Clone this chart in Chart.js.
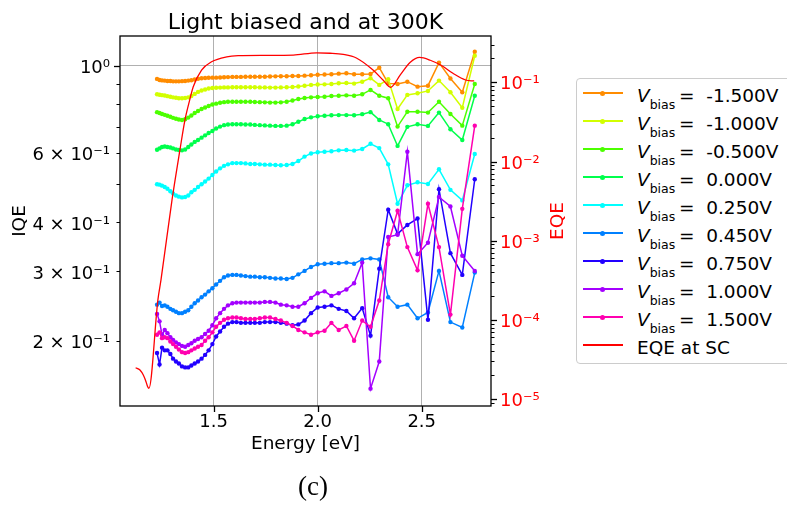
<!DOCTYPE html>
<html>
<head>
<meta charset="utf-8">
<script src="https://cdn.jsdelivr.net/npm/chart.js@4.4.0/dist/chart.umd.min.js"></script>
<style>
  html, body { margin: 0; padding: 0; background: #fff; overflow: hidden; }
  #wrap { position: relative; width: 787px; height: 505px; font-family: "DejaVu Sans", sans-serif; }
  #chart { position: absolute; left: 0; top: 0; }
  #legend { position: absolute; left: 576px; top: 78px; width: 240px; height: 284px;
            border: 1px solid #cccccc; border-radius: 4px; background: #fff; }
  .swatch { position: absolute; left: 6px; width: 40px; height: 2px; }
  .dot { position: absolute; left: 23px; width: 5px; height: 5px; border-radius: 50%; }
  .txt { position: absolute; left: 60px; top: 0; line-height: 24px; font-size: 18.5px; white-space: nowrap; color: #000; }
  .txt sub { font-size: 12.5px; vertical-align: -7px; line-height: 0; }
  #caption { position: absolute; left: 263px; top: 471px; width: 100px; text-align: center;
             font-family: "Liberation Serif", serif; font-size: 27px; line-height: 30px; }
</style>
</head>
<body>
<div id="wrap">
  <canvas id="chart" width="787" height="505"></canvas>
  <div id="legend"></div>
  <div id="caption">(c)</div>
</div>
<script>
// Energie (eV) der Messpunkte
const energy = [1.228, 1.240, 1.252, 1.265, 1.278, 1.292, 1.305, 1.319, 1.333, 1.348,
  1.363, 1.378, 1.393, 1.409, 1.425, 1.442, 1.459, 1.476, 1.494, 1.512,
  1.531, 1.550, 1.569, 1.590, 1.610, 1.631, 1.653, 1.676, 1.698, 1.722,
  1.746, 1.771, 1.797, 1.823, 1.851, 1.879, 1.907, 1.937, 1.968, 2.000,
  2.033, 2.066, 2.101, 2.138, 2.175, 2.214, 2.254, 2.296, 2.339, 2.384,
  2.431, 2.480, 2.530, 2.583, 2.638, 2.695, 2.755];

const biasValues = ['-1.500V', '-1.000V', '-0.500V', '0.000V', '0.250V', '0.450V', '0.750V', '1.000V', '1.500V'];
const biasColors = ['#ff8c00', '#d2ff00', '#4cff00', '#00ff4c', '#00ffff', '#0080ff', '#2200ff', '#a400ff', '#ff00b0'];

// IQE je Vorspannung
const iqeM150 = [0.927, 0.921, 0.919, 0.918, 0.916, 0.916, 0.914, 0.914, 0.914, 0.915,
  0.916, 0.918, 0.920, 0.924, 0.928, 0.931, 0.932, 0.933, 0.934, 0.934,
  0.935, 0.936, 0.937, 0.938, 0.938, 0.938, 0.939, 0.939, 0.939, 0.939,
  0.939, 0.940, 0.941, 0.942, 0.942, 0.943, 0.943, 0.945, 0.947, 0.950,
  0.951, 0.953, 0.956, 0.958, 0.953, 0.953, 0.954, 0.990, 0.903, 0.900,
  0.912, 0.886, 0.891, 1.020, 0.929, 0.857, 1.087];
const iqeM100 = [0.847, 0.845, 0.843, 0.841, 0.838, 0.835, 0.832, 0.830, 0.828, 0.828,
  0.829, 0.832, 0.839, 0.849, 0.859, 0.866, 0.871, 0.876, 0.879, 0.880,
  0.881, 0.882, 0.882, 0.883, 0.883, 0.883, 0.883, 0.883, 0.883, 0.882,
  0.882, 0.881, 0.881, 0.882, 0.883, 0.884, 0.887, 0.891, 0.895, 0.897,
  0.898, 0.900, 0.904, 0.905, 0.902, 0.912, 0.931, 0.895, 0.925, 0.777,
  0.844, 0.852, 0.864, 0.918, 0.857, 0.783, 1.062];
const iqeM050 = [0.763, 0.759, 0.755, 0.751, 0.747, 0.743, 0.738, 0.734, 0.731, 0.729,
  0.732, 0.739, 0.748, 0.759, 0.768, 0.777, 0.784, 0.791, 0.798, 0.802,
  0.806, 0.809, 0.811, 0.811, 0.811, 0.811, 0.811, 0.811, 0.810, 0.809,
  0.808, 0.807, 0.807, 0.808, 0.811, 0.817, 0.824, 0.829, 0.832, 0.834,
  0.835, 0.839, 0.840, 0.842, 0.840, 0.847, 0.869, 0.840, 0.828, 0.701,
  0.765, 0.765, 0.761, 0.811, 0.755, 0.705, 0.900];
const iqe000 = [0.612, 0.617, 0.622, 0.624, 0.622, 0.620, 0.617, 0.613, 0.611, 0.610,
  0.613, 0.622, 0.631, 0.641, 0.648, 0.657, 0.666, 0.675, 0.683, 0.693,
  0.701, 0.707, 0.710, 0.711, 0.711, 0.711, 0.710, 0.710, 0.708, 0.707,
  0.706, 0.705, 0.704, 0.704, 0.705, 0.711, 0.721, 0.733, 0.740, 0.745,
  0.747, 0.749, 0.750, 0.750, 0.749, 0.754, 0.763, 0.729, 0.711, 0.626,
  0.700, 0.711, 0.704, 0.761, 0.690, 0.648, 0.840];
const iqe025 = [0.500, 0.499, 0.496, 0.492, 0.487, 0.480, 0.474, 0.468, 0.465, 0.463,
  0.464, 0.468, 0.477, 0.484, 0.492, 0.500, 0.508, 0.517, 0.528, 0.539,
  0.549, 0.557, 0.562, 0.566, 0.566, 0.566, 0.565, 0.563, 0.563, 0.562,
  0.561, 0.561, 0.560, 0.559, 0.560, 0.563, 0.573, 0.588, 0.599, 0.603,
  0.605, 0.607, 0.610, 0.611, 0.609, 0.615, 0.634, 0.618, 0.562, 0.446,
  0.497, 0.506, 0.501, 0.546, 0.484, 0.455, 0.597];
const iqe045 = [0.247, 0.250, 0.245, 0.246, 0.244, 0.241, 0.239, 0.237, 0.235, 0.235,
  0.237, 0.239, 0.244, 0.249, 0.253, 0.258, 0.262, 0.267, 0.272, 0.278,
  0.284, 0.290, 0.293, 0.294, 0.294, 0.293, 0.292, 0.291, 0.291, 0.290,
  0.290, 0.289, 0.288, 0.288, 0.287, 0.289, 0.295, 0.301, 0.308, 0.313,
  0.314, 0.315, 0.315, 0.316, 0.314, 0.322, 0.324, 0.322, 0.258, 0.244,
  0.247, 0.228, 0.236, 0.301, 0.223, 0.216, 0.298];
const iqe075 = [0.186, 0.174, 0.192, 0.189, 0.189, 0.185, 0.180, 0.177, 0.175, 0.172,
  0.171, 0.171, 0.173, 0.175, 0.177, 0.180, 0.184, 0.189, 0.196, 0.205,
  0.211, 0.217, 0.221, 0.223, 0.223, 0.222, 0.222, 0.222, 0.222, 0.222,
  0.223, 0.223, 0.223, 0.222, 0.221, 0.219, 0.220, 0.225, 0.235, 0.243,
  0.244, 0.246, 0.241, 0.238, 0.228, 0.242, 0.206, 0.305, 0.431, 0.374,
  0.394, 0.409, 0.226, 0.486, 0.334, 0.294, 0.515];
const iqe100 = [0.234, 0.224, 0.207, 0.213, 0.209, 0.204, 0.201, 0.198, 0.196, 0.194,
  0.193, 0.195, 0.197, 0.200, 0.202, 0.204, 0.208, 0.212, 0.219, 0.228,
  0.235, 0.241, 0.246, 0.249, 0.250, 0.250, 0.250, 0.250, 0.250, 0.250,
  0.251, 0.251, 0.250, 0.247, 0.246, 0.244, 0.244, 0.249, 0.257, 0.264,
  0.267, 0.260, 0.264, 0.270, 0.280, 0.316, 0.151, 0.177, 0.367, 0.372,
  0.605, 0.332, 0.355, 0.464, 0.439, 0.329, 0.301];
const iqe150 = [0.207, 0.210, 0.203, 0.204, 0.203, 0.199, 0.196, 0.193, 0.190, 0.187,
  0.186, 0.187, 0.189, 0.191, 0.193, 0.195, 0.200, 0.204, 0.210, 0.217,
  0.222, 0.226, 0.228, 0.229, 0.229, 0.228, 0.227, 0.227, 0.227, 0.228,
  0.229, 0.229, 0.227, 0.225, 0.222, 0.218, 0.213, 0.210, 0.207, 0.210,
  0.212, 0.222, 0.213, 0.218, 0.200, 0.225, 0.217, 0.253, 0.352, 0.428,
  0.346, 0.302, 0.446, 0.346, 0.233, 0.433, 0.705];

// EQE bei Kurzschluss (rechte Achse)
const eqeEnergy = [1.125, 1.146, 1.162, 1.175, 1.183, 1.189, 1.232, 1.247, 1.300, 1.338,
  1.362, 1.385, 1.402, 1.442, 1.490, 1.563, 1.618, 1.750, 1.883, 1.995,
  2.060, 2.123, 2.186, 2.266, 2.314, 2.350, 2.397, 2.445, 2.490, 2.541,
  2.597, 2.650, 2.711, 2.752];
const eqeSC = [2.49e-5, 2.33e-5, 2.01e-5, 1.66e-5, 1.43e-5, 1.37e-5, 1.78e-4, 3.2e-4, 3.27e-3, 1.40e-2,
  3.34e-2, 0.060, 0.088, 0.143, 0.182, 0.210, 0.217, 0.219, 0.221, 0.236,
  0.233, 0.225, 0.203, 0.143, 0.107, 0.0865, 0.124, 0.179, 0.206, 0.190,
  0.162, 0.130, 0.107, 0.104];

// Achsenbeschriftung
const energyTicks = [1.5, 2.0, 2.5];
const energyTickLabels = ['1.5', '2.0', '2.5'];
const iqeTicks = [0.2, 0.3, 0.4, 0.5, 0.6, 0.7, 0.8, 0.9, 1];
const iqeTickLabels = ['2 × 10⁻¹', '3 × 10⁻¹', '4 × 10⁻¹', '', '6 × 10⁻¹', '', '', '', '10⁰'];
const eqeMajorTicks = [1e-5, 1e-4, 1e-3, 1e-2, 1e-1];
const eqeMajorLabels = ['10⁻⁵', '10⁻⁴', '10⁻³', '10⁻²', '10⁻¹'];

const iqeSeries = [iqeM150, iqeM100, iqeM050, iqe000, iqe025, iqe045, iqe075, iqe100, iqe150];

// rechte Achse: Dekaden plus Zwischenstriche
const eqeTicks = [];
[1e-6, 1e-5, 1e-4, 1e-3, 1e-2, 1e-1].forEach(d => {
    for (let m = 1; m <= 9; m++) {
        const v = +(m * d).toPrecision(3);
        if (v >= 8.2e-6 && v <= 0.38) eqeTicks.push(v);
    }
});

const FONT = 'DejaVu Sans';

const datasets = iqeSeries.map((vals, i) => ({
    label: 'V_bias = ' + biasValues[i],
    data: energy.map((e, k) => ({ x: e, y: vals[k] })),
    yAxisID: 'y',
    borderColor: biasColors[i],
    backgroundColor: biasColors[i],
    borderWidth: 1.5,
    pointRadius: 2.2,
    pointBorderWidth: 0,
    pointBackgroundColor: biasColors[i],
    tension: 0,
    order: 10 - i
}));
datasets.push({
    label: 'EQE at SC',
    data: eqeEnergy.map((e, k) => ({ x: e, y: eqeSC[k] })),
    yAxisID: 'y2',
    borderColor: '#ff0000',
    backgroundColor: '#ff0000',
    borderWidth: 1.3,
    pointRadius: 0,
    cubicInterpolationMode: 'monotone',
    order: 0
});

// Rahmen, Teilstriche und Titel
const decorPlugin = {
    id: 'decor',
    afterDraw(chart) {
        const ctx = chart.ctx;
        const a = chart.chartArea;
        const sx = chart.scales.x, sy = chart.scales.y, sy2 = chart.scales.y2;
        ctx.save();
        ctx.strokeStyle = '#000';
        const line = (x1, y1, x2, y2, w) => {
            ctx.lineWidth = w;
            ctx.beginPath(); ctx.moveTo(x1, y1); ctx.lineTo(x2, y2); ctx.stroke();
        };
        sx.ticks.forEach(t => {
            const px = Math.round(sx.getPixelForValue(t.value)) + 0.5;
            line(px, a.bottom, px, a.bottom + 6, 1.3);
        });
        sy.ticks.forEach(t => {
            const py = Math.round(sy.getPixelForValue(t.value)) + 0.5;
            const major = t.value === 1;
            line(a.left - (major ? 6 : 3.5), py, a.left, py, major ? 1.3 : 1);
        });
        sy2.ticks.forEach(t => {
            const py = Math.round(sy2.getPixelForValue(t.value)) + 0.5;
            const lg = Math.log10(t.value);
            const major = Math.abs(lg - Math.round(lg)) < 1e-6;
            line(a.right, py, a.right + (major ? 6 : 3.5), py, major ? 1.3 : 1);
        });
        ctx.lineWidth = 1.3;
        ctx.strokeRect(a.left, a.top, a.right - a.left, a.bottom - a.top);

        ctx.fillStyle = '#000';
        ctx.textAlign = 'center';
        ctx.textBaseline = 'alphabetic';
        ctx.font = '22px "' + FONT + '"';
        ctx.fillText('Light biased and at 300K', (a.left + a.right) / 2, 29);
        ctx.font = '18.5px "' + FONT + '"';
        ctx.fillText('Energy [eV]', (a.left + a.right) / 2, 449);
        ctx.save();
        ctx.translate(25, (a.top + a.bottom) / 2);
        ctx.rotate(-Math.PI / 2);
        ctx.fillText('IQE', 0, 0);
        ctx.restore();
        ctx.save();
        ctx.fillStyle = '#ff0000';
        ctx.translate(563, (a.top + a.bottom) / 2);
        ctx.rotate(-Math.PI / 2);
        ctx.fillText('EQE', 0, 0);
        ctx.restore();
        ctx.restore();
    }
};

const chart = new Chart(document.getElementById('chart').getContext('2d'), {
    type: 'line',
    data: { datasets: datasets },
    options: {
        responsive: false,
        animation: false,
        devicePixelRatio: 1,
        layout: { padding: { left: 0, right: 236, top: 36, bottom: 39 } },
        plugins: { legend: { display: false }, tooltip: { enabled: false }, title: { display: false } },
        scales: {
            x: {
                type: 'linear',
                min: 1.05,
                max: 2.833,
                afterFit: s => { s.height = 60; },
                afterBuildTicks: s => { s.ticks = energyTicks.map(v => ({ value: v })); },
                grid: { color: '#b0b0b0', lineWidth: 1, drawTicks: false },
                border: { display: false },
                ticks: {
                    autoSkip: false, maxRotation: 0, padding: 6, color: '#000',
                    font: { family: FONT, size: 18 },
                    callback: (v, i) => energyTickLabels[i]
                }
            },
            y: {
                type: 'logarithmic',
                position: 'left',
                min: 0.1364,
                max: 1.192,
                afterFit: s => { s.width = 120; },
                afterBuildTicks: s => { s.ticks = iqeTicks.map(v => ({ value: v })); },
                grid: {
                    drawTicks: false,
                    color: c => (c.tick && c.tick.value === 1) ? '#b0b0b0' : 'rgba(0,0,0,0)'
                },
                border: { display: false },
                ticks: {
                    autoSkip: false, padding: 10, labelOffset: 2.5, color: '#000',
                    font: { family: FONT, size: 18 },
                    callback: (v, i) => iqeTickLabels[i]
                }
            },
            y2: {
                type: 'logarithmic',
                position: 'right',
                min: 8.18e-6,
                max: 0.3846,
                afterFit: s => { s.width = 60; },
                afterBuildTicks: s => { s.ticks = eqeTicks.map(v => ({ value: v })); },
                grid: { drawOnChartArea: false, drawTicks: false },
                border: { display: false },
                ticks: {
                    autoSkip: false, padding: 9, labelOffset: 2.5, color: '#ff0000',
                    font: { family: FONT, size: 18 },
                    callback: v => {
                        const k = eqeMajorTicks.findIndex(m => Math.abs(m - v) / m < 1e-6);
                        return k >= 0 ? eqeMajorLabels[k] : '';
                    }
                }
            }
        }
    },
    plugins: [decorPlugin]
});

// Legende als HTML neben dem Diagramm
const legendEl = document.getElementById('legend');
chart.data.datasets.forEach((ds, i) => {
    const lineY = Math.round(93 + i * 27.96 - 79);
    const sw = document.createElement('div');
    sw.className = 'swatch';
    sw.style.top = (lineY - 1) + 'px';
    sw.style.background = ds.borderColor;
    legendEl.appendChild(sw);
    if (ds.pointRadius > 0) {
        const dot = document.createElement('div');
        dot.className = 'dot';
        dot.style.top = (lineY - 2.5) + 'px';
        dot.style.background = ds.borderColor;
        legendEl.appendChild(dot);
    }
    const txt = document.createElement('div');
    txt.className = 'txt';
    txt.style.top = (lineY - 12 + 2.5) + 'px';
    if (i < biasValues.length) {
        txt.innerHTML = '<i>V</i><sub>bias</sub>&thinsp;=&nbsp;&nbsp;' + biasValues[i];
    } else {
        txt.textContent = ds.label;
    }
    legendEl.appendChild(txt);
});
</script>
</body>
</html>
